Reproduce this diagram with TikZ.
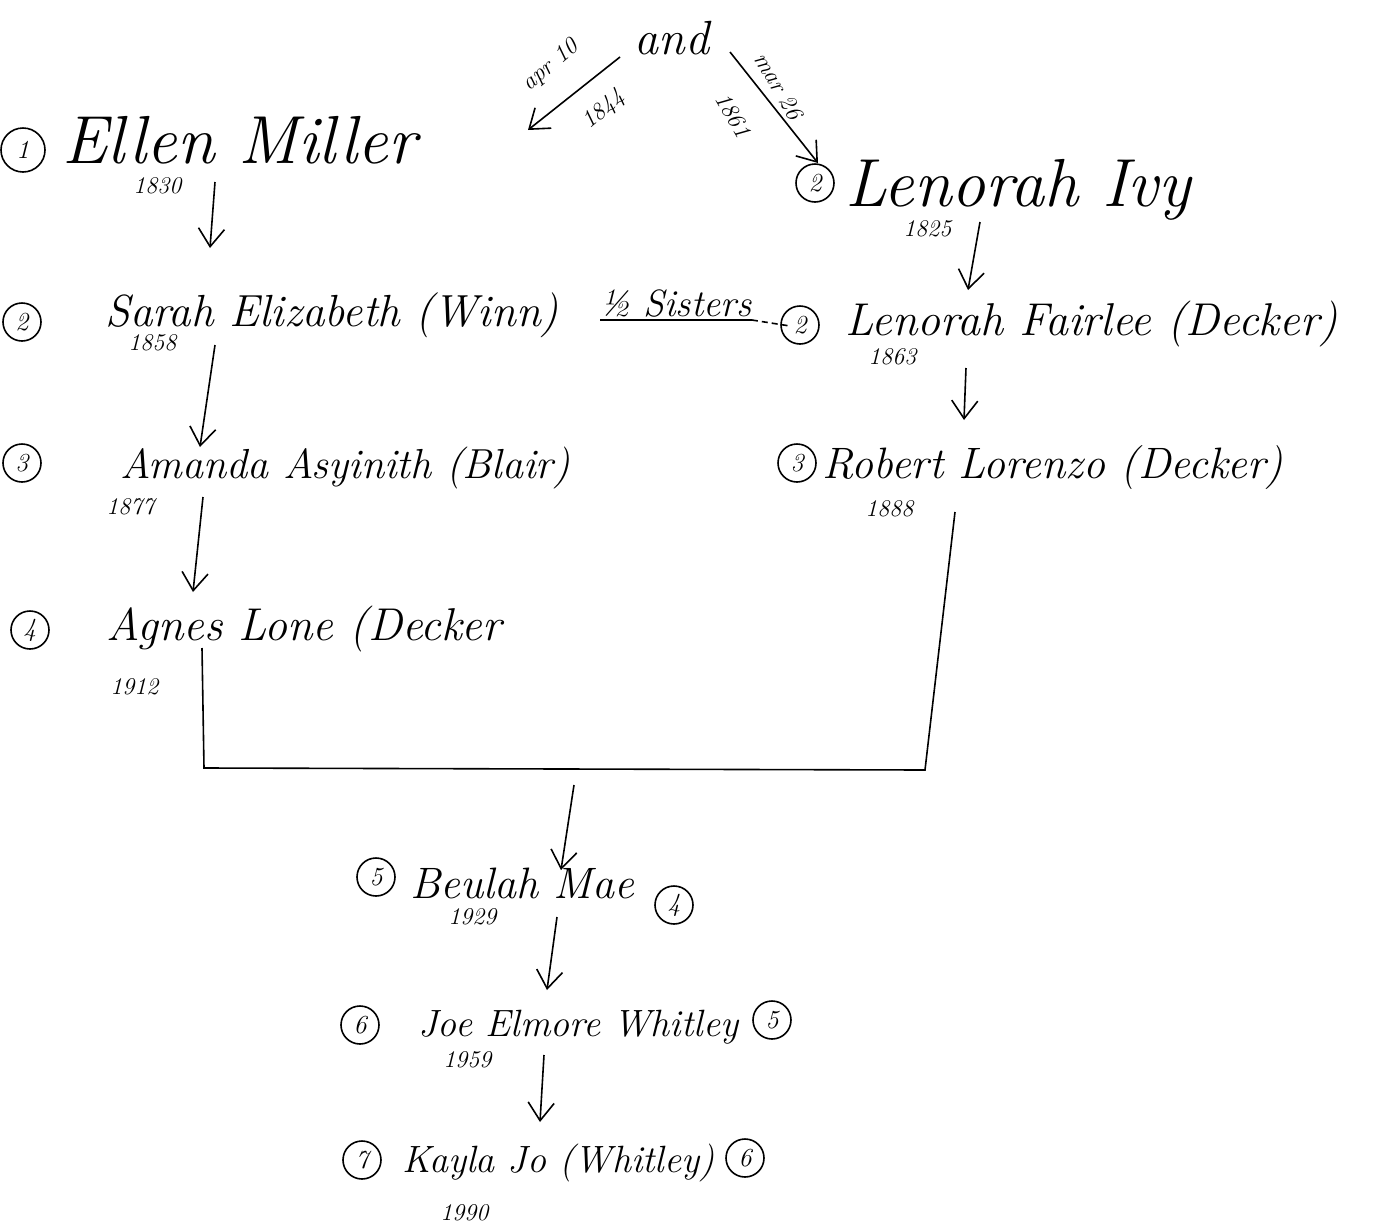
\documentclass[tikz,border=0pt]{standalone}
\usetikzlibrary{arrows.meta}
\begin{document}
\begin{tikzpicture}[x=0.5pt,y=-0.5pt,
  nm/.style={anchor=base west,inner sep=0pt,font=\fontsize{#1}{#1}\selectfont\itshape},
  yr/.style={anchor=base west,inner sep=0pt,font=\fontsize{12}{12}\selectfont\itshape},
  lab/.style={inner sep=0pt,font=\fontsize{12}{12}\selectfont\itshape},
  num/.style={circle,draw,line width=0.8pt,inner sep=0pt,minimum size=19pt,font=\fontsize{13}{13}\selectfont\itshape},
  arr/.style={line width=0.8pt,-{Straight Barb[length=9pt,width=13pt,line width=0.8pt]}},
  ln/.style={line width=0.8pt}]
\useasboundingbox (0,0) rectangle (1373,1227);
% top
\node[nm=24,anchor=base] (and) at (672,54) {and};
\coordinate (andL) at (620,57);
\coordinate (andR) at (730,52);
\node[lab,rotate=40] (apr) at (551,66) {apr 10};
\node[lab,rotate=40] (y1844) at (604,110) {1844};
\node[lab,rotate=-60] (mar) at (779,86) {mar 26};
\node[lab,rotate=-60] (y1861) at (733,115) {1861};
% generation 1
\node[num,minimum size=22pt] (c1) at (23,150) {1};
\node[nm=34] (ellen) at (62,163) {Ellen Miller};
\node[yr] (y1830) at (133,193) {1830};
\node[num] (c2a) at (815,183) {2};
\node[nm=34] (ivy) at (845,206) {Lenorah Ivy};
\node[yr] (y1825) at (903,236) {1825};
\coordinate (eL) at (528,130);
\coordinate (eR) at (818,163);
\draw[arr] (andL) -- (eL);
\draw[arr] (andR) -- (eR);
% generation 2
\node[num] (c2b) at (22,322) {2};
\node[nm=22.5] (sarah) at (105,326) {Sarah Elizabeth (Winn)};
\node[yr] (y1858) at (128,350) {1858};
\node[nm=19] (sis) at (600,316) {½ Sisters};
\node[num] (c2c) at (800,325) {2};
\node[nm=23] (fair) at (845,335) {Lenorah Fairlee (Decker)};
\node[yr] (y1863) at (868,364) {1863};
\draw[ln] ([yshift=-2pt]sis.base west) -- ([yshift=-2pt]sis.base east) coordinate (sisE);
\coordinate (sisD) at (790,326);
\draw[ln,dashed,dash pattern=on 3pt off 2pt] (sisE) -- (sisD);
% generation 3
\node[num] (c3a) at (22,463) {3};
\node[nm=21] (amanda) at (120,478) {Amanda Asyinith (Blair)};
\node[yr] (y1877) at (106,514) {1877};
\node[num] (c3b) at (797,463) {3};
\node[nm=22] (robert) at (822,478) {Robert Lorenzo (Decker)};
\node[yr] (y1888) at (865,516) {1888};
% generation 4
\node[num] (c4a) at (30,630) {4};
\node[nm=23] (agnes) at (106,640) {Agnes Lone (Decker};
\node[yr] (y1912) at (110,694) {1912};
% generation 5-7
\node[num] (c5a) at (376,877) {5};
\node[nm=22] (beulah) at (410,898) {Beulah Mae};
\node[num] (c4b) at (674,905) {4};
\node[yr] (y1929) at (448,924) {1929};
\node[num] (c6a) at (360,1025) {6};
\node[nm=19] (joe) at (418,1036) {Joe Elmore Whitley};
\node[num] (c5b) at (772,1020) {5};
\node[yr] (y1959) at (443,1067) {1959};
\node[num] (c7a) at (362,1160) {7};
\node[nm=19] (kayla) at (402,1172) {Kayla Jo (Whitley)};
\node[num] (c6b) at (745,1158) {6};
\node[yr] (y1990) at (440,1220) {1990};
% arrows
\coordinate (p1) at (215,182); \coordinate (q1) at (210,248);
\coordinate (p2) at (980,222); \coordinate (q2) at (968,290);
\coordinate (p3) at (215,345); \coordinate (q3) at (200,447);
\coordinate (p4) at (966,368); \coordinate (q4) at (964,420);
\coordinate (p5) at (203,497); \coordinate (q5) at (193,592);
\draw[arr] (p1) -- (q1);
\draw[arr] (p2) -- (q2);
\draw[arr] (p3) -- (q3);
\draw[arr] (p4) -- (q4);
\draw[arr] (p5) -- (q5);
% join
\coordinate (a1) at (202,648); \coordinate (a2) at (204,768);
\coordinate (r2) at (925,770); \coordinate (r1) at (955,512);
\draw[ln] (a1) -- (a2) -- (r2) -- (r1);
\coordinate (p6) at (574,785); \coordinate (q6) at (561,870);
\coordinate (p7) at (557,917); \coordinate (q7) at (547,990);
\coordinate (p8) at (544,1055); \coordinate (q8) at (540,1122);
\draw[arr] (p6) -- (q6);
\draw[arr] (p7) -- (q7);
\draw[arr] (p8) -- (q8);
\end{tikzpicture}
\end{document}
